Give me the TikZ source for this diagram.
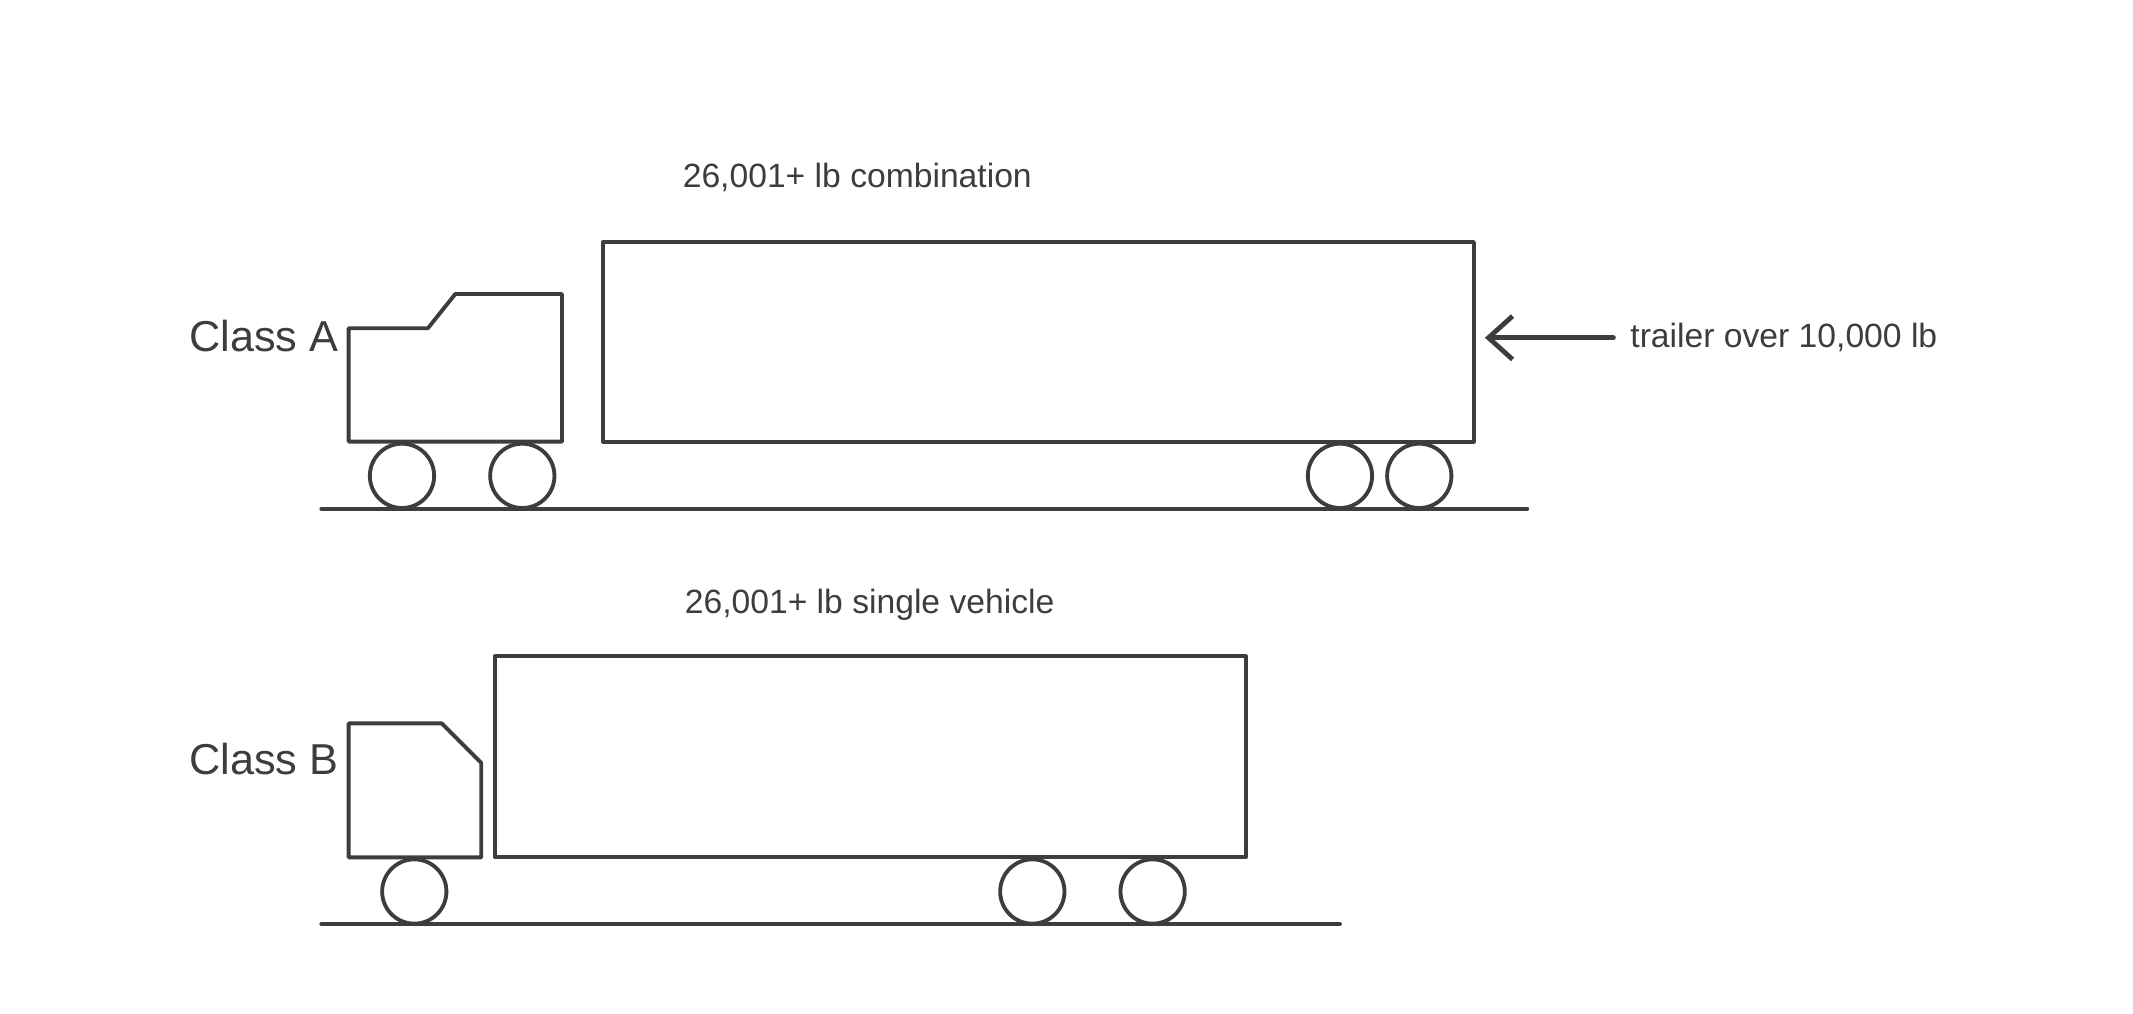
\documentclass[tikz,border=0pt]{standalone}
\usepackage{fontspec}
\setmainfont{Liberation Sans}
\usetikzlibrary{arrows.meta, positioning}
\definecolor{inkgray}{HTML}{3D3D3D}
\begin{document}
\begin{tikzpicture}[x=0.01cm, y=-0.01cm,
    body/.style={draw=inkgray, line width=0.8pt, line join=round},
    wheel/.style={circle, draw=inkgray, line width=0.8pt, minimum size=0.47cm, inner sep=0pt},
    road/.style={draw=inkgray, line width=0.8pt, line cap=round},
    classlabel/.style={font=\fontsize{9}{10}\selectfont, text=inkgray},
    note/.style={font=\fontsize{7}{8}\selectfont, text=inkgray}
  ]
    \useasboundingbox (0,0) rectangle (1560,741);
    % Class A: tractor and trailer
    \draw[body] (255,323) -- (255,240) -- (313,240) -- (333,215) -- (411,215) -- (411,323) -- cycle;
    \draw[body] (441,177) rectangle (1078,323);
    \node[wheel] (wA1) at (294,348) {};
    \node[wheel] (wA2) at (382,348) {};
    \node[wheel] (wA3) at (980,348) {};
    \node[wheel] (wA4) at (1038,348) {};
    \coordinate (roadAl) at (235,372);
    \coordinate (roadAr) at (1117,372);
    \draw[road] (roadAl) -- (roadAr);
    \node[classlabel] (classA) at (193,246) {Class A};
    \node[note] (combo) at (627,130) {26,001+ lb combination};
    \node[note, anchor=west] (trailernote) at (1180,247) {trailer over 10,000 lb};
    \coordinate (arrowtip) at (1086,247);
    \draw[-{Straight Barb[length=5pt, width=9pt]}, inkgray, line width=1pt, line cap=round] (trailernote.west) -- (arrowtip);
    % Class B: straight truck
    \draw[body] (255,627) -- (255,529) -- (323,529) -- (352,558) -- (352,627) -- cycle;
    \draw[body] (362,480) rectangle (911,627);
    \node[wheel] (wB1) at (303,652) {};
    \node[wheel] (wB2) at (755,652) {};
    \node[wheel] (wB3) at (843,652) {};
    \coordinate (roadBl) at (235,676);
    \coordinate (roadBr) at (980,676);
    \draw[road] (roadBl) -- (roadBr);
    \node[classlabel] (classB) at (193,555) {Class B};
    \node[note] (single) at (636,442) {26,001+ lb single vehicle};
\end{tikzpicture}
\end{document}
